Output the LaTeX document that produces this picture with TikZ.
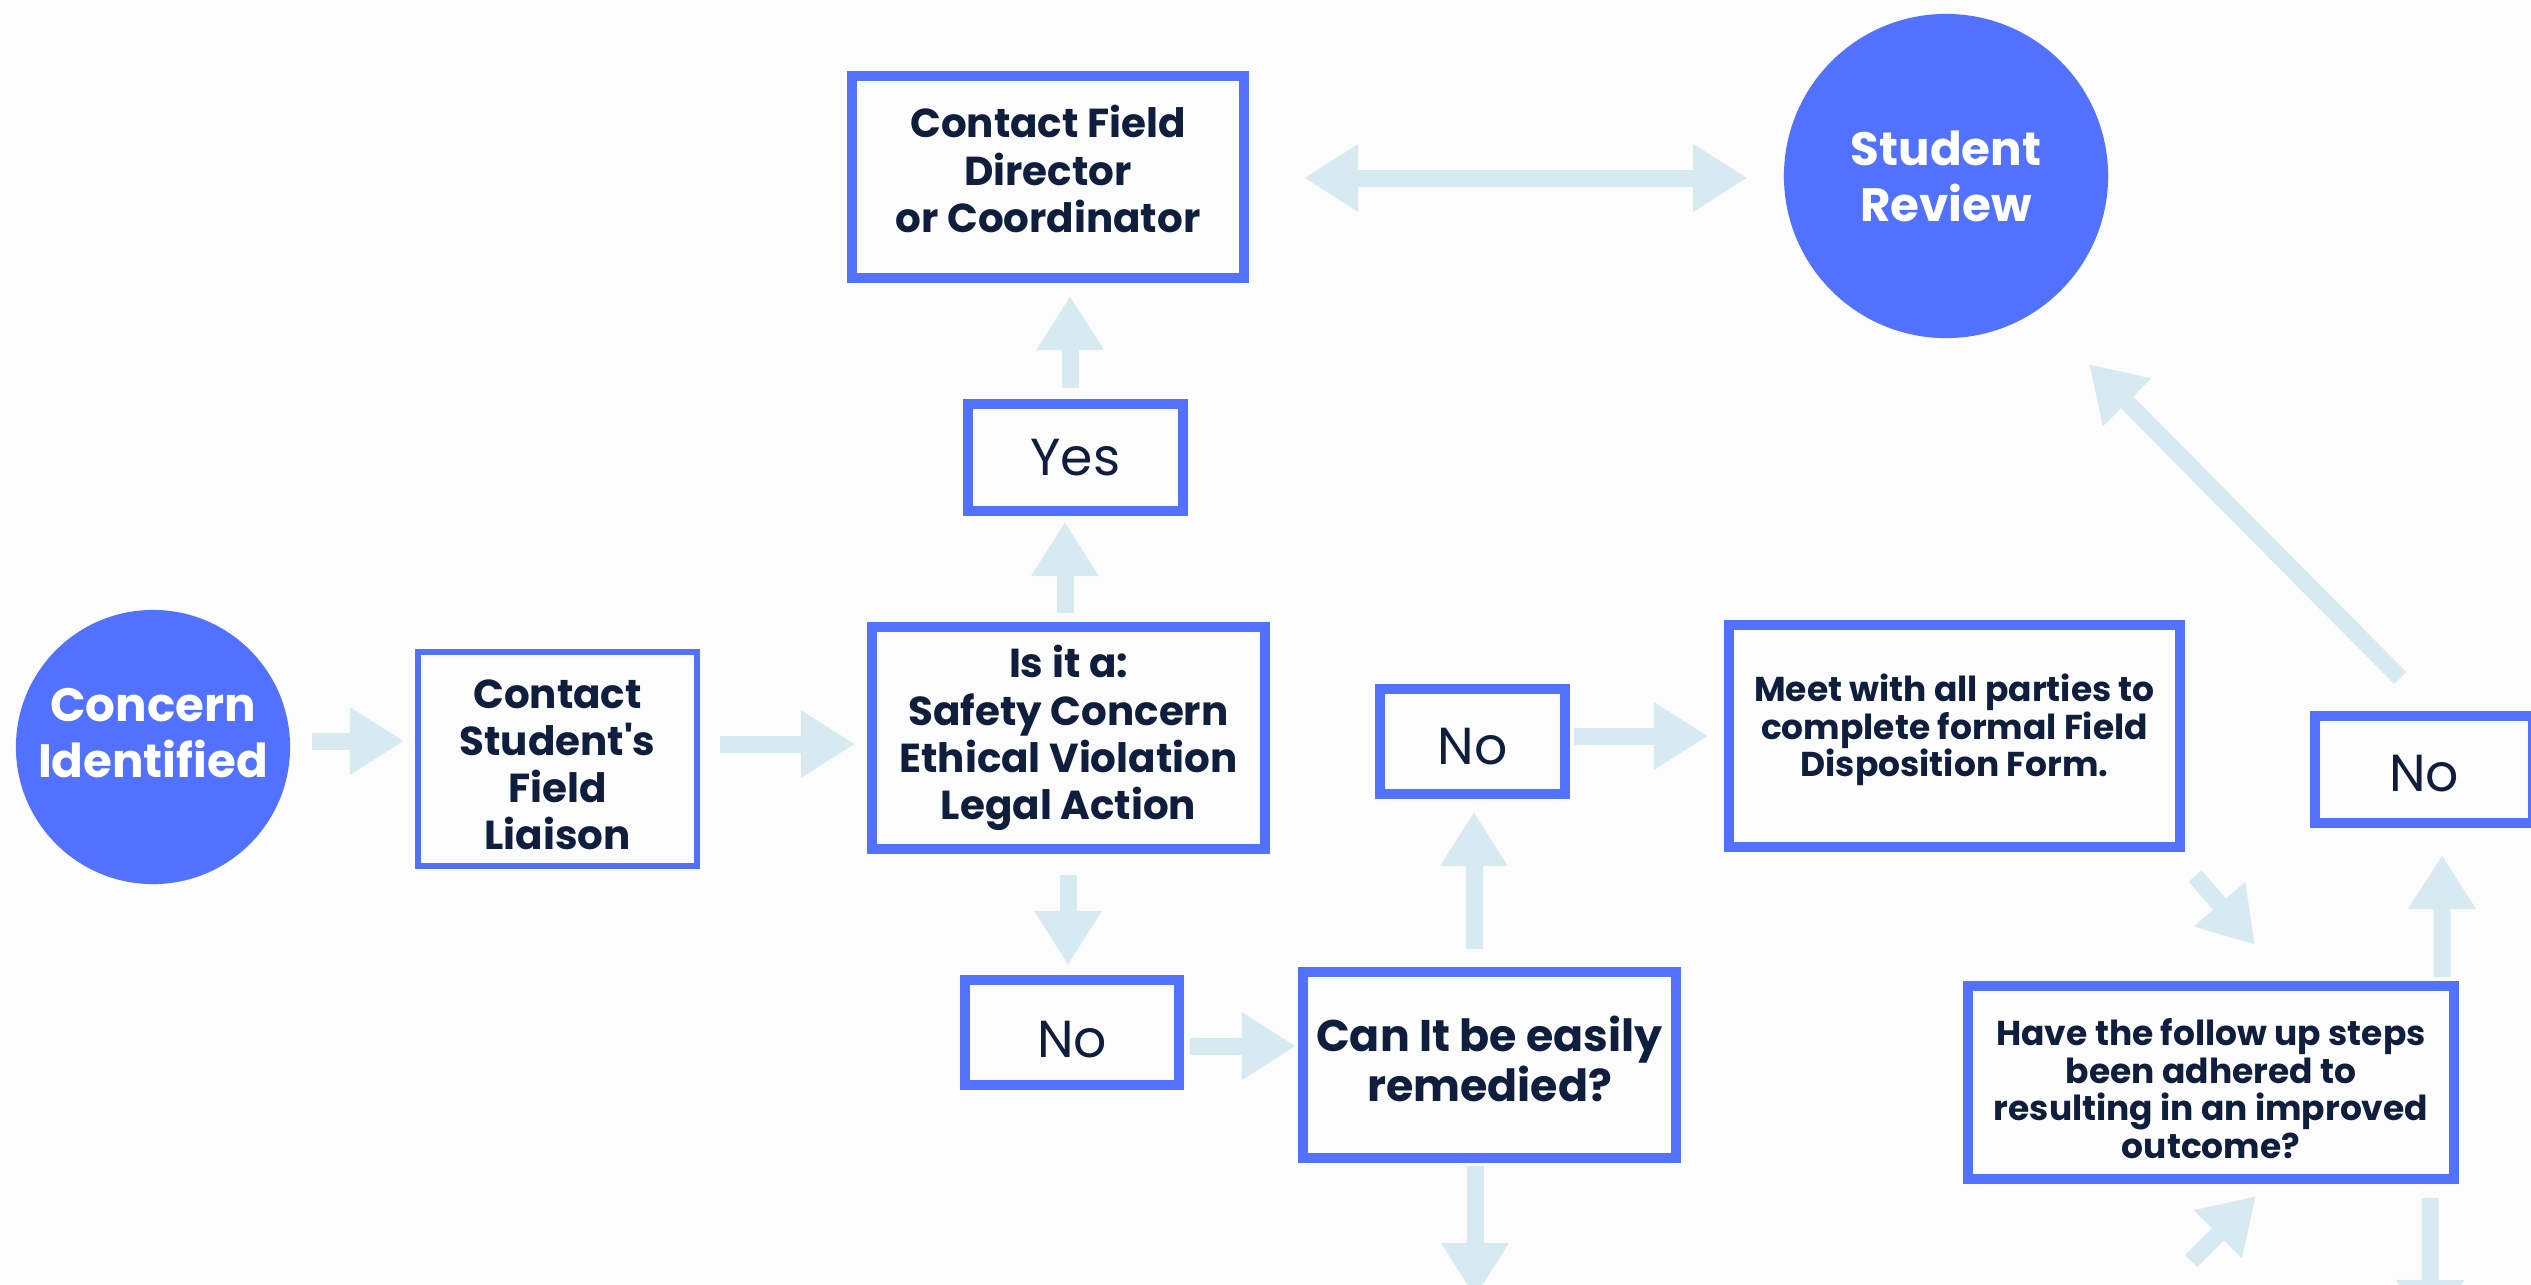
\documentclass[tikz,border=0pt]{standalone}
\usepackage{fontspec}
\setmainfont{Poppins}[Ligatures=TeXOff]
\usetikzlibrary{arrows.meta,calc}
\definecolor{bluec}{HTML}{5271FF}
\definecolor{arrowc}{HTML}{D7EAF1}
\definecolor{textc}{HTML}{0F1E3D}
\definecolor{bgc}{HTML}{FDFCFC}
\newcommand\myboxfont{\bfseries\fontsize{11.5}{13.4}\selectfont}
\newcommand\mycanfont{\bfseries\fontsize{12.6}{14.2}\selectfont}
\newcommand\mysmallfont{\bfseries\fontsize{9.8}{10.7}\selectfont}
\newcommand\mycircfont{\bfseries\fontsize{13.3}{15.9}\selectfont}
\newcommand\myansfont{\fontsize{14.8}{16}\selectfont}
\tikzset{
  box/.style={draw=bluec, line width=0.1cm, inner sep=0pt},
  thinbox/.style={box, line width=0.06cm},
  txt/.style={text=textc, align=center, inner sep=0pt, font=\myboxfont},
  anstxt/.style={txt, font=\myansfont},
  circ/.style={circle, fill=bluec, inner sep=0pt},
  circtxt/.style={text=white, align=center, inner sep=0pt, font=\mycircfont},
  arr/.style={draw=arrowc, line width=0.17cm, -{Triangle[length=0.54cm,width=0.64cm]}},
  darr/.style={draw=arrowc, line width=0.17cm, {Triangle[length=0.54cm,width=0.64cm]}-{Triangle[length=0.54cm,width=0.64cm]}}
}
\begin{document}
\begin{tikzpicture}[x=0.01cm,y=-0.01cm]
\useasboundingbox (0,0) rectangle (2531,1284);
\clip (0,0) rectangle (2531,1284);
\fill[bgc] (0,0) rectangle (2531,1284);

% shapes
\node[circ, minimum size=2.74cm] (conc) at (153,747) {};
\node[thinbox, minimum width=2.79cm, minimum height=2.14cm] (liaison) at (557.5,759) {};
\node[box, minimum width=3.93cm, minimum height=2.22cm] (isit) at (1068.5,738) {};
\node[box, minimum width=2.15cm, minimum height=1.07cm] (yes) at (1075.5,457.5) {};
\node[box, minimum width=3.92cm, minimum height=2.02cm] (cfd) at (1048,177) {};
\node[circ, minimum size=3.24cm] (sr) at (1946,176) {};
\node[box, minimum width=2.14cm, minimum height=1.05cm] (no1) at (1072,1032.5) {};
\node[box, minimum width=3.73cm, minimum height=1.86cm] (canit) at (1489.5,1065) {};
\node[box, minimum width=1.85cm, minimum height=1.05cm] (no2) at (1472.5,741.5) {};
\node[box, minimum width=4.51cm, minimum height=2.22cm] (meet) at (1954.5,736) {};
\node[box, minimum width=2.18cm, minimum height=1.07cm] (no3) at (2424,769.5) {};
\node[box, minimum width=4.86cm, minimum height=1.93cm] (follow) at (2211,1082.5) {};

% texts
\node[circtxt] (conc-t) at ($(conc.center)+(0,-14)$) {Concern\\Identified};
\node[circtxt] (sr-t) at ($(sr.center)+(0,0)$) {Student\\Review};
\node[txt] (liaison-t) at ($(liaison.center)+(0,6)$) {Contact\\Student's\\Field\\Liaison};
\node[txt] (isit-t) at (isit.center) {Is it a:\\Safety Concern\\Ethical Violation\\Legal Action};
\node[txt] (cfd-t) at ($(cfd.center)+(0,-8)$) {Contact Field\\Director\\or Coordinator};
\node[anstxt] (yes-t) at (yes.center) {Yes};
\node[anstxt] (no1-t) at ($(no1.center)+(0,7)$) {No};
\node[anstxt] (no2-t) at ($(no2.center)+(0,5)$) {No};
\node[anstxt] (no3-t) at ($(no3.center)+(0,4)$) {No};
\node[txt, font=\mycanfont] (canit-t) at ($(canit.center)+(0,-6)$) {Can It be easily\\remedied?};
\node[txt, font=\mysmallfont] (meet-t) at ($(meet.center)+(0,-6)$) {Meet with all parties to\\complete formal Field\\Disposition Form.};
\node[txt, font=\mysmallfont] (follow-t) at ($(follow.center)+(0,6)$) {Have the follow up steps\\been adhered to\\resulting in an improved\\outcome?};

\coordinate (jend) at (1475,1297);
\coordinate (lstart) at (2191,1261);
\coordinate (mend) at (2430,1334);

% connectors
\draw[arr] ($(conc.east)+(21,-6)$) -- ($(liaison.west)+(-11,-18)$);
\draw[arr] ($(liaison.east)+(20,-15)$) -- ($(isit.west)+(-12,6)$);
\draw[arr] ($(isit.north)+(-3.5,-9)$) -- ($(yes.south)+(-10.5,6)$);
\draw[arr] ($(yes.north)+(-5.5,-11)$) -- ($(cfd.south)+(22,13)$);
\draw[darr] ($(cfd.east)+(55,1)$) -- ($(sr.west)+(-36,2)$);
\draw[arr] ($(isit.south)+(-0.5,21)$) -- ($(no1.north)+(-4,-10)$);
\draw[arr] ($(no1.east)+(6,13.5)$) -- ($(canit.west)+(-2,-19)$);
\draw[arr] ($(canit.north)+(-15.5,-18)$) -- ($(no2.south)+(1.5,13)$);
\draw[arr] ($(no2.east)+(4,-5.5)$) -- ($(meet.west)+(-16,0)$);
\draw[arr] ($(canit.south)+(-14.5,3)$) -- (jend);
\draw[arr] ($(meet.south east)+(10,24)$) -- ($(follow.north)+(44,-36)$);
\draw[arr] (lstart) -- ($(follow.south)+(45,12)$);
\draw[arr] ($(follow.south east)+(-29,14)$) -- (mend);
\draw[arr] ($(follow.north east)+(-17,-4)$) -- ($(no3.south)+(18,27)$);
\draw[arr] ($(no3.north)+(-24,-33)$) -- ($(sr.center)+(143,188)$);
\end{tikzpicture}
\end{document}
